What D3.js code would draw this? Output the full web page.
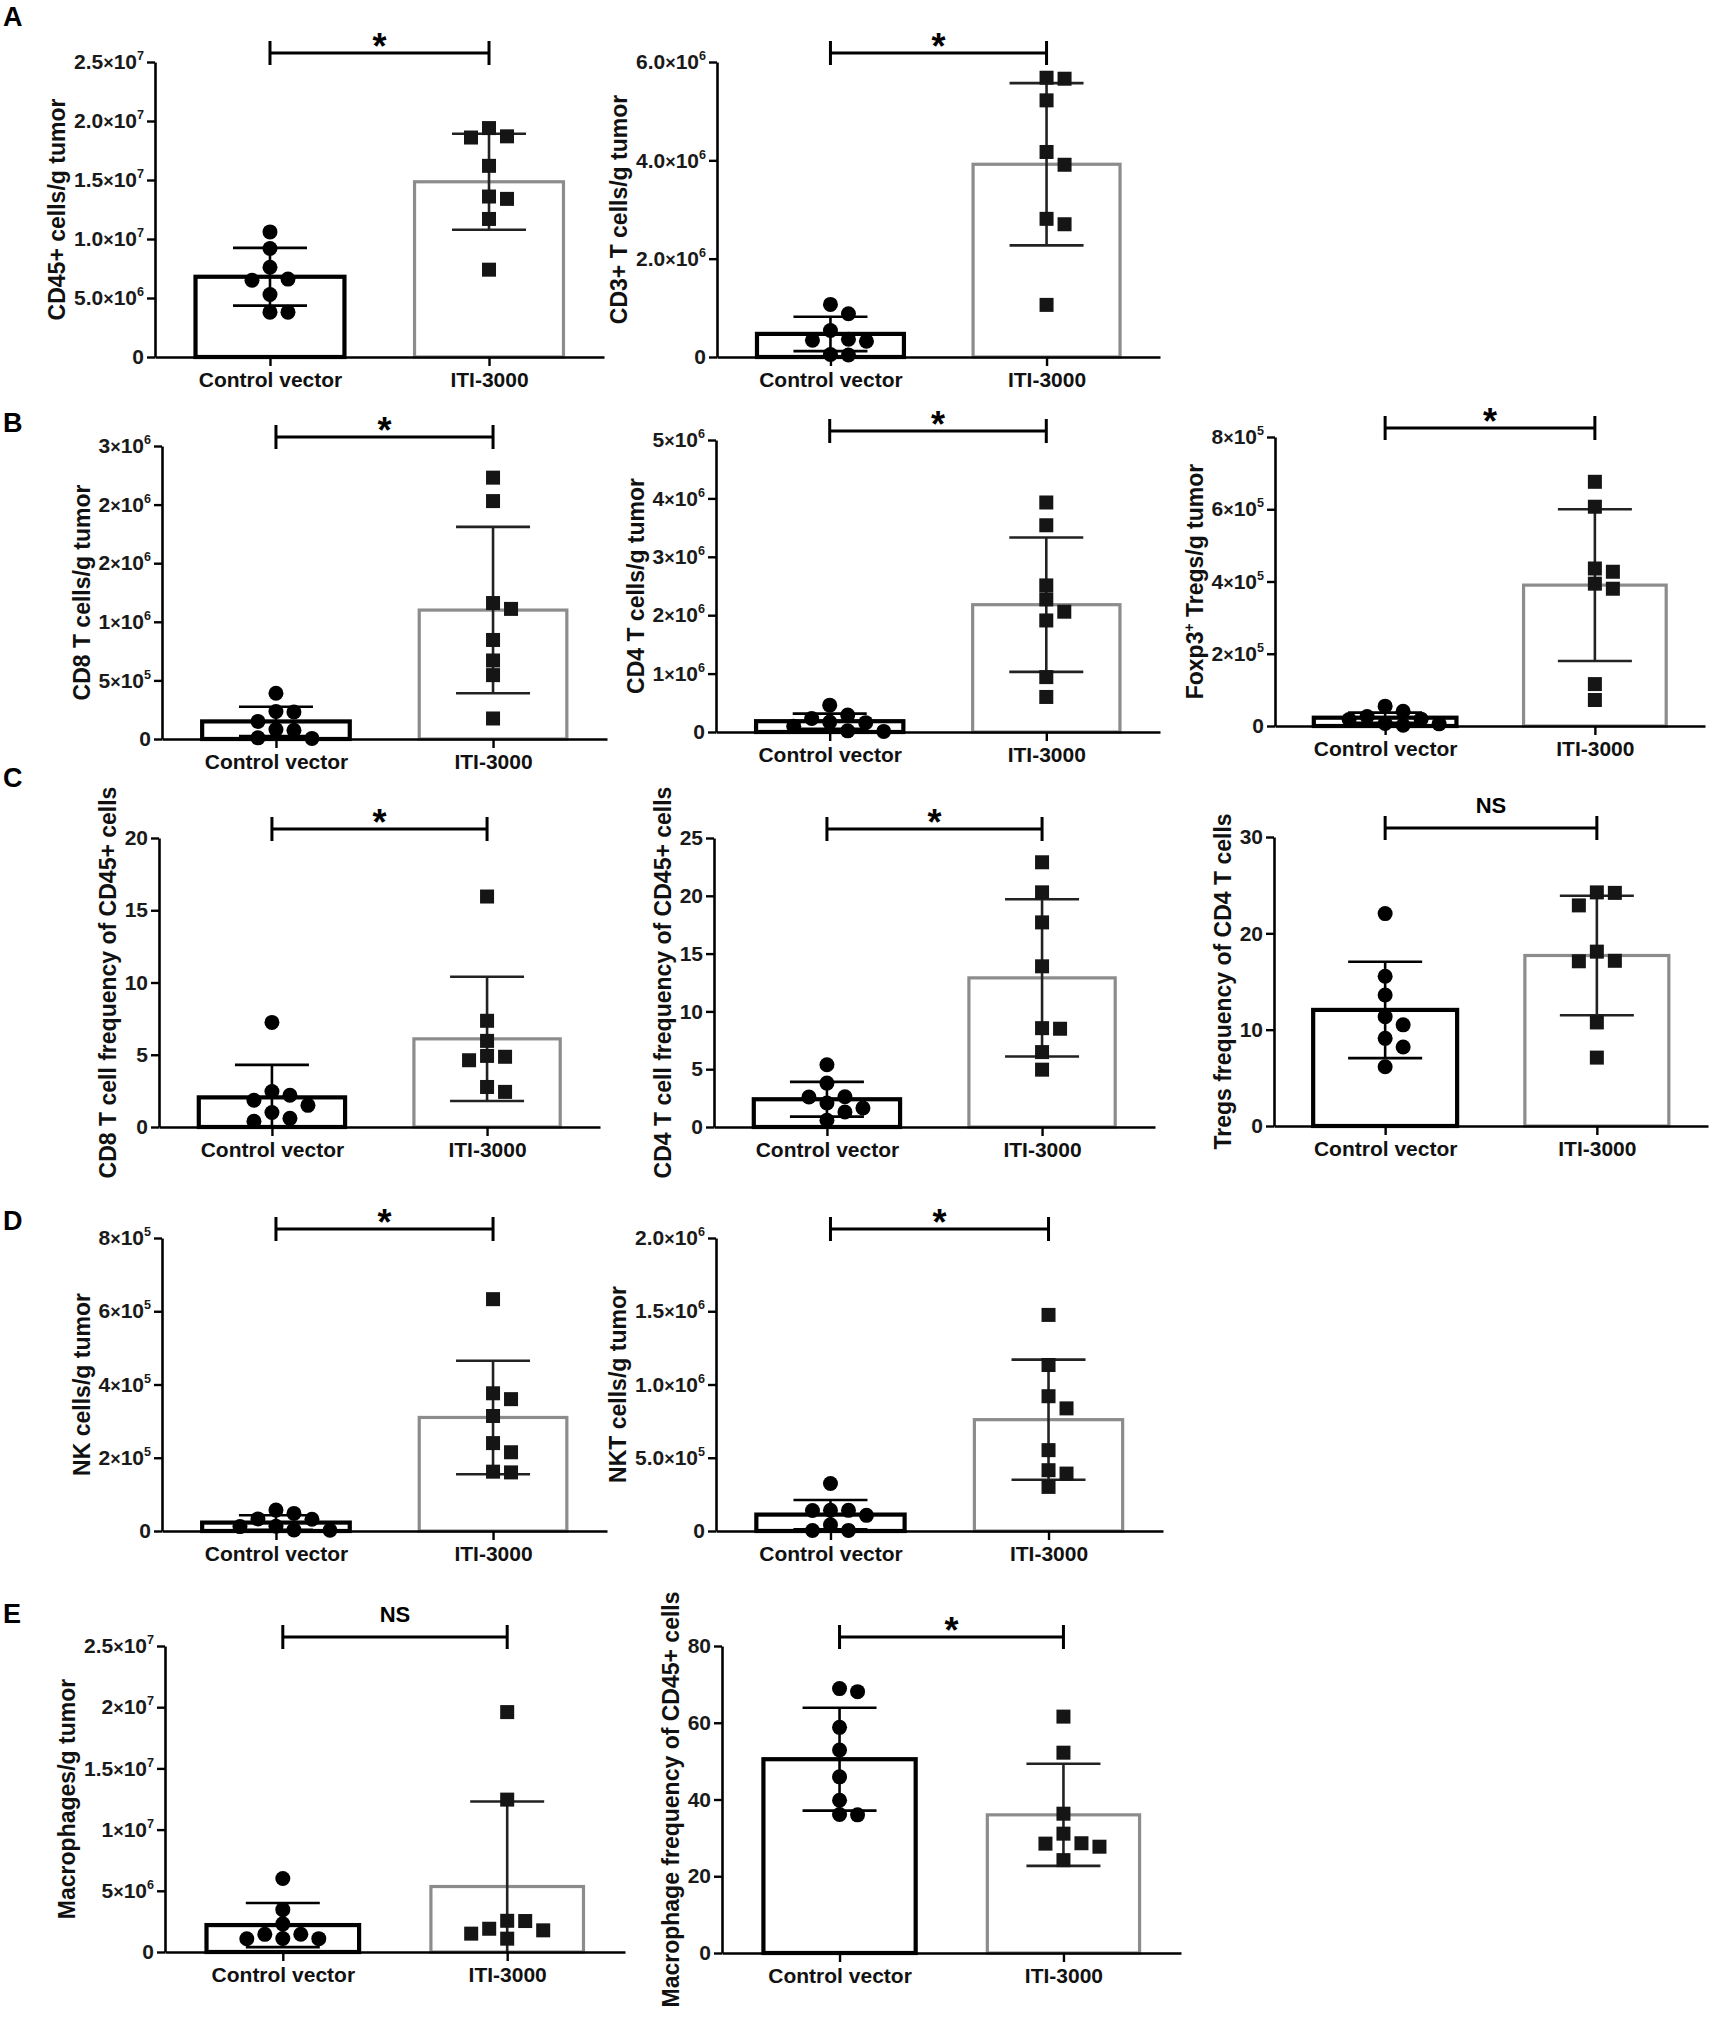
<!DOCTYPE html>
<html>
<head>
<meta charset="utf-8">
<script src="https://cdnjs.cloudflare.com/ajax/libs/d3/7.8.5/d3.min.js"></script>
<style>
  body { margin: 0; background: #fff; }
  svg { display: block; }
</style>
</head>
<body>
<div id="fig"></div>
<script>
// categories shared by every panel
var categories = ['Control vector', 'ITI-3000'];

// A: CD45+ cells/g tumor
var cd45Ctrl = [10.6e6, 9.2e6, 7.6e6, 6.5e6, 6.6e6, 5.3e6, 3.8e6, 3.8e6];
var cd45Iti = [19.4e6, 18.6e6, 18.7e6, 16.2e6, 13.4e6, 13.6e6, 11.7e6, 7.4e6];
var cd45Mean = [6.8e6, 14.85e6];
var cd45Sd = [2.45e6, 4.07e6];
var cd45Ticks = [0, 5e6, 1e7, 1.5e7, 2e7, 2.5e7];
var cd45Labels = ['0', '5.0×10^6', '1.0×10^7', '1.5×10^7', '2.0×10^7', '2.5×10^7'];

// A: CD3+ T cells/g tumor
var cd3Ctrl = [1.07e6, 0.88e6, 0.54e6, 0.34e6, 0.32e6, 0.36e6, 0.05e6, 0.04e6];
var cd3Iti = [5.66e6, 5.68e6, 5.22e6, 4.17e6, 3.91e6, 2.81e6, 2.70e6, 1.06e6];
var cd3Mean = [0.47e6, 3.92e6];
var cd3Sd = [0.35e6, 1.65e6];
var cd3Ticks = [0, 2e6, 4e6, 6e6];
var cd3Labels = ['0', '2.0×10^6', '4.0×10^6', '6.0×10^6'];

// B: CD8 T cells/g tumor
var cd8Ctrl = [3.9e5, 2.3e5, 2.35e5, 1.5e5, 0.8e5, 0.75e5, 0.1e5, 0.05e5];
var cd8Iti = [22.3e5, 20.3e5, 11.6e5, 11.1e5, 8.45e5, 6.7e5, 5.45e5, 1.75e5];
var cd8Mean = [1.5e5, 11.0e5];
var cd8Sd = [1.25e5, 7.1e5];
var cd8Ticks = [0, 5e5, 1e6, 1.5e6, 2e6, 2.5e6];
var cd8Labels = ['0', '5×10^5', '1×10^6', '2×10^6', '2×10^6', '3×10^6'];

// B: CD4 T cells/g tumor
var cd4Ctrl = [0.46e6, 0.29e6, 0.23e6, 0.16e6, 0.17e6, 0.1e6, 0.01e6, 0.02e6];
var cd4Iti = [3.93e6, 3.54e6, 2.51e6, 2.27e6, 2.06e6, 1.91e6, 0.94e6, 0.6e6];
var cd4Mean = [0.185e6, 2.18e6];
var cd4Sd = [0.13e6, 1.15e6];
var cd4Ticks = [0, 1e6, 2e6, 3e6, 4e6, 5e6];
var cd4Labels = ['0', '1×10^6', '2×10^6', '3×10^6', '4×10^6', '5×10^6'];

// B: Foxp3+ Tregs/g tumor
var tregCtrl = [0.55e5, 0.41e5, 0.26e5, 0.18e5, 0.19e5, 0.07e5, 0.06e5, 0.02e5];
var tregIti = [6.76e5, 6.07e5, 4.36e5, 4.27e5, 3.94e5, 3.8e5, 1.16e5, 0.72e5];
var tregMean = [0.23e5, 3.9e5];
var tregSd = [0.14e5, 2.1e5];
var tregTicks = [0, 2e5, 4e5, 6e5, 8e5];
var tregLabels = ['0', '2×10^5', '4×10^5', '6×10^5', '8×10^5'];

// C: CD8 T cell frequency of CD45+ cells
var cd8FreqCtrl = [7.24, 2.45, 2.2, 1.85, 1.5, 1.0, 0.6, 0.4];
var cd8FreqIti = [15.95, 7.35, 5.96, 4.92, 4.86, 4.62, 2.77, 2.43];
var cd8FreqMean = [2.05, 6.1];
var cd8FreqSd = [2.25, 4.3];
var cd8FreqTicks = [0, 5, 10, 15, 20];

// C: CD4 T cell frequency of CD45+ cells
var cd4FreqCtrl = [5.39, 3.8, 2.6, 2.62, 2.07, 1.64, 1.3, 0.58];
var cd4FreqIti = [22.9, 20.3, 17.7, 13.9, 8.5, 8.55, 6.48, 4.96];
var cd4FreqMean = [2.4, 12.9];
var cd4FreqSd = [1.5, 6.8];
var cd4FreqTicks = [0, 5, 10, 15, 20, 25];

// C: Tregs frequency of CD4 T cells
var tregFreqCtrl = [22.05, 15.55, 13.6, 11.35, 10.5, 9.1, 8.2, 6.15];
var tregFreqIti = [24.2, 24.25, 22.9, 18.1, 17.1, 17.15, 10.75, 7.1];
var tregFreqMean = [12.05, 17.7];
var tregFreqSd = [5.0, 6.2];
var tregFreqTicks = [0, 10, 20, 30];

// D: NK cells/g tumor
var nkCtrl = [0.57e5, 0.48e5, 0.32e5, 0.33e5, 0.12e5, 0.13e5, 0.02e5, 0.03e5];
var nkIti = [6.33e5, 3.76e5, 3.6e5, 3.14e5, 2.4e5, 2.15e5, 1.6e5, 1.62e5];
var nkMean = [0.23e5, 3.1e5];
var nkSd = [0.2e5, 1.55e5];
var nkTicks = [0, 2e5, 4e5, 6e5, 8e5];
var nkLabels = ['0', '2×10^5', '4×10^5', '6×10^5', '8×10^5'];

// D: NKT cells/g tumor
var nktCtrl = [3.24e5, 1.41e5, 1.42e5, 1.4e5, 1.07e5, 0.43e5, 0.03e5, 0.04e5];
var nktIti = [14.75e5, 11.33e5, 9.2e5, 8.37e5, 5.52e5, 4.15e5, 3.92e5, 3.01e5];
var nktMean = [1.12e5, 7.6e5];
var nktSd = [1.0e5, 4.1e5];
var nktTicks = [0, 5e5, 1e6, 1.5e6, 2e6];
var nktLabels = ['0', '5.0×10^5', '1.0×10^6', '1.5×10^6', '2.0×10^6'];

// E: Macrophages/g tumor
var macCtrl = [6.0e6, 3.46e6, 2.3e6, 1.44e6, 1.45e6, 1.09e6, 1.1e6, 1.08e6];
var macIti = [19.6e6, 12.45e6, 2.53e6, 2.55e6, 1.9e6, 1.77e6, 1.5e6, 1.09e6];
var macMean = [2.2e6, 5.35e6];
var macSd = [1.8e6, 6.95e6];
var macTicks = [0, 5e6, 1e7, 1.5e7, 2e7, 2.5e7];
var macLabels = ['0', '5×10^6', '1×10^7', '1.5×10^7', '2×10^7', '2.5×10^7'];

// E: Macrophage frequency of CD45+ cells
var macFreqCtrl = [68.1, 68.9, 58.8, 52.9, 45.9, 39.8, 36.1, 36.0];
var macFreqIti = [61.6, 52.2, 36.3, 31.1, 28.5, 28.6, 27.7, 24.2];
var macFreqMean = [50.5, 36.0];
var macFreqSd = [13.4, 13.3];
var macFreqTicks = [0, 20, 40, 60, 80];

// panel letters
var letters = ['A', 'B', 'C', 'D', 'E'];

var FONT = '"Liberation Sans", Arial, Helvetica, sans-serif';
var width = 1711;
var height = 2028;

// layout of each small chart (axis x, axis end, top tick y, zero y)
var panels = [
  { title: 'CD45+ cells/g tumor', ctrl: cd45Ctrl, iti: cd45Iti, mean: cd45Mean, sd: cd45Sd,
    ticks: cd45Ticks, labels: cd45Labels, sig: '*', x0: 155, x1: 604, yTop: 62, yZero: 357 },
  { title: 'CD3+ T cells/g tumor', ctrl: cd3Ctrl, iti: cd3Iti, mean: cd3Mean, sd: cd3Sd,
    ticks: cd3Ticks, labels: cd3Labels, sig: '*', x0: 717, x1: 1160, yTop: 62, yZero: 357 },
  { title: 'CD8 T cells/g tumor', ctrl: cd8Ctrl, iti: cd8Iti, mean: cd8Mean, sd: cd8Sd,
    ticks: cd8Ticks, labels: cd8Labels, sig: '*', x0: 162, x1: 607, yTop: 446, yZero: 739 },
  { title: 'CD4 T cells/g tumor', ctrl: cd4Ctrl, iti: cd4Iti, mean: cd4Mean, sd: cd4Sd,
    ticks: cd4Ticks, labels: cd4Labels, sig: '*', x0: 716, x1: 1160, yTop: 440, yZero: 732 },
  { title: ['Foxp3', '+', ' Tregs/g tumor'], ctrl: tregCtrl, iti: tregIti, mean: tregMean, sd: tregSd,
    ticks: tregTicks, labels: tregLabels, sig: '*', x0: 1275, x1: 1705, yTop: 437, yZero: 726 },
  { title: 'CD8 T cell frequency of CD45+ cells', ctrl: cd8FreqCtrl, iti: cd8FreqIti, mean: cd8FreqMean, sd: cd8FreqSd,
    ticks: cd8FreqTicks, labels: null, sig: '*', x0: 159, x1: 600, yTop: 838, yZero: 1127 },
  { title: 'CD4 T cell frequency of CD45+ cells', ctrl: cd4FreqCtrl, iti: cd4FreqIti, mean: cd4FreqMean, sd: cd4FreqSd,
    ticks: cd4FreqTicks, labels: null, sig: '*', x0: 714, x1: 1155, yTop: 838, yZero: 1127 },
  { title: 'Tregs frequency of CD4 T cells', ctrl: tregFreqCtrl, iti: tregFreqIti, mean: tregFreqMean, sd: tregFreqSd,
    ticks: tregFreqTicks, labels: null, sig: 'NS', x0: 1274, x1: 1708, yTop: 837, yZero: 1126 },
  { title: 'NK cells/g tumor', ctrl: nkCtrl, iti: nkIti, mean: nkMean, sd: nkSd,
    ticks: nkTicks, labels: nkLabels, sig: '*', x0: 162, x1: 607, yTop: 1238, yZero: 1531 },
  { title: 'NKT cells/g tumor', ctrl: nktCtrl, iti: nktIti, mean: nktMean, sd: nktSd,
    ticks: nktTicks, labels: nktLabels, sig: '*', x0: 716, x1: 1163, yTop: 1238, yZero: 1531 },
  { title: 'Macrophages/g tumor', ctrl: macCtrl, iti: macIti, mean: macMean, sd: macSd,
    ticks: macTicks, labels: macLabels, sig: 'NS', x0: 165, x1: 625, yTop: 1646, yZero: 1952 },
  { title: 'Macrophage frequency of CD45+ cells', ctrl: macFreqCtrl, iti: macFreqIti, mean: macFreqMean, sd: macFreqSd,
    ticks: macFreqTicks, labels: null, sig: '*', x0: 722, x1: 1181, yTop: 1646, yZero: 1953 }
];

var letterPos = [[3, 26], [3, 432], [3, 787], [3, 1230], [3, 1623]];

var svg = d3.select('#fig')
  .append('svg')
  .attr('width', width)
  .attr('height', height)
  .style('font-family', FONT)
  .style('font-weight', 'bold');

svg.append('rect').attr('width', width).attr('height', height).attr('fill', '#fff');

svg.selectAll('.letter')
  .data(letters)
  .enter()
  .append('text')
  .attr('class', 'letter')
  .attr('x', function(d, i) { return letterPos[i][0]; })
  .attr('y', function(d, i) { return letterPos[i][1]; })
  .attr('font-size', 27)
  .attr('fill', '#000')
  .text(function(d) { return d; });

// writes "2.5×10^7" as text with a superscript
function writeLabel(textEl, label) {
  textEl.text(null);
  if (label.indexOf('^') < 0) {
    textEl.text(label);
    return;
  }
  var parts = label.split('^');
  var base = parts[0].split('×');
  textEl.append('tspan').text(base[0]);
  textEl.append('tspan').attr('font-size', '0.85em').text('×');
  textEl.append('tspan').text(base[1]);
  textEl.append('tspan').attr('font-size', '0.6em').attr('dy', -9).text(parts[1]);
}

// simple bee swarm, in pixels, like the prism scatter spread
function swarm(values, y, cx, step, minDy) {
  var placed = [];
  var out = [];
  var order = values.map(function(v, i) { return i; })
    .sort(function(a, b) { return values[b] - values[a]; });
  order.forEach(function(i) {
    var py = y(values[i]);
    for (var k = 0; k < 30; k++) {
      var off = k === 0 ? 0 : (k % 2 ? 1 : -1) * Math.ceil(k / 2) * step;
      var hit = placed.some(function(p) {
        return Math.abs(p.x - off) < step * 0.9 && Math.abs(p.y - py) < minDy;
      });
      if (!hit) {
        placed.push({ x: off, y: py });
        out[i] = { x: cx + off, y: py };
        break;
      }
    }
  });
  return out;
}

panels.forEach(function(p) {
  var g = svg.append('g');

  var x = d3.scalePoint()
    .domain(categories)
    .range([p.x0, p.x1])
    .padding(0.525);

  var y = d3.scaleLinear()
    .domain([0, d3.max(p.ticks)])
    .range([p.yZero, p.yTop]);

  var bw = x.step() * 0.68;
  var cx = categories.map(function(c) { return x(c); });

  // bars (mean)
  g.selectAll('.bar')
    .data(p.mean)
    .enter()
    .append('rect')
    .attr('x', function(d, i) { return cx[i] - bw / 2; })
    .attr('y', function(d) { return y(d); })
    .attr('width', bw)
    .attr('height', function(d) { return p.yZero - y(d); })
    .attr('fill', '#fff')
    .attr('stroke', function(d, i) { return i === 0 ? '#000' : '#8c8c8c'; })
    .attr('stroke-width', function(d, i) { return i === 0 ? 4.2 : 3.2; });

  // error bars (SD)
  p.mean.forEach(function(m, i) {
    var hi = m + p.sd[i];
    var lo = Math.max(0, m - p.sd[i]);
    var col = i === 0 ? '#000' : '#222';
    g.append('line')
      .attr('x1', cx[i]).attr('x2', cx[i])
      .attr('y1', y(hi)).attr('y2', y(lo))
      .attr('stroke', col).attr('stroke-width', 2.6);
    g.append('line')
      .attr('x1', cx[i] - 37).attr('x2', cx[i] + 37)
      .attr('y1', y(hi)).attr('y2', y(hi))
      .attr('stroke', col).attr('stroke-width', 2.6);
    if (m - p.sd[i] > 0) {
      g.append('line')
        .attr('x1', cx[i] - 37).attr('x2', cx[i] + 37)
        .attr('y1', y(lo)).attr('y2', y(lo))
        .attr('stroke', col).attr('stroke-width', 2.6);
    }
  });

  // points
  var ctrlPts = swarm(p.ctrl, y, cx[0], 18, 14);
  var itiPts = swarm(p.iti, y, cx[1], 18, 14);

  g.selectAll('.dotc')
    .data(ctrlPts)
    .enter()
    .append('circle')
    .attr('cx', function(d) { return d.x; })
    .attr('cy', function(d) { return d.y; })
    .attr('r', 7.5)
    .attr('fill', '#000');

  g.selectAll('.doti')
    .data(itiPts)
    .enter()
    .append('rect')
    .attr('x', function(d) { return d.x - 7; })
    .attr('y', function(d) { return d.y - 7; })
    .attr('width', 14)
    .attr('height', 14)
    .attr('fill', '#151515');

  // y axis
  var yAxis = d3.axisLeft(y)
    .tickValues(p.ticks)
    .tickSize(8)
    .tickSizeOuter(0)
    .tickPadding(3);

  var yg = g.append('g')
    .attr('transform', 'translate(' + p.x0 + ',0)')
    .call(yAxis)
    .attr('font-family', FONT)
    .attr('font-size', 21);

  yg.select('.domain').attr('stroke', '#000').attr('stroke-width', 2.6);
  yg.selectAll('.tick line').attr('stroke', '#000').attr('stroke-width', 2.4);
  yg.selectAll('.tick text')
    .attr('fill', '#1a1a1a')
    .each(function(d) {
      var idx = p.ticks.indexOf(d);
      var lab = p.labels ? p.labels[idx] : String(d);
      writeLabel(d3.select(this), lab);
    });

  // x axis
  var xAxis = d3.axisBottom(x)
    .tickSize(9)
    .tickSizeOuter(0)
    .tickPadding(6);

  var xg = g.append('g')
    .attr('transform', 'translate(0,' + p.yZero + ')')
    .call(xAxis)
    .attr('font-family', FONT)
    .attr('font-size', 21);

  xg.select('.domain').attr('stroke', '#000').attr('stroke-width', 2.6);
  xg.selectAll('.tick line').attr('stroke', '#000').attr('stroke-width', 2.4);
  xg.selectAll('.tick text').attr('fill', '#111');

  // y title, placed left of the tick labels
  var bb = yg.node().getBBox();
  var title = g.append('text')
    .attr('transform', 'translate(' + (p.x0 + bb.x - 9) + ',' + ((p.yTop + p.yZero) / 2) + ') rotate(-90)')
    .attr('text-anchor', 'middle')
    .attr('font-size', 23)
    .attr('fill', '#111');
  if (Array.isArray(p.title)) {
    title.append('tspan').text(p.title[0]);
    title.append('tspan').attr('font-size', '0.6em').attr('dy', -9).text(p.title[1]);
    title.append('tspan').attr('dy', 9).text(p.title[2]);
  } else {
    title.text(p.title);
  }

  // significance bracket
  var yb = p.yTop - 9;
  g.append('path')
    .attr('d', 'M' + cx[0] + ',' + (yb - 12) + 'V' + (yb + 12) +
      'M' + cx[0] + ',' + yb + 'H' + cx[1] +
      'M' + cx[1] + ',' + (yb - 12) + 'V' + (yb + 12))
    .attr('fill', 'none')
    .attr('stroke', '#000')
    .attr('stroke-width', 3);

  g.append('text')
    .attr('x', (cx[0] + cx[1]) / 2)
    .attr('y', p.sig === '*' ? yb + 6 : yb - 15)
    .attr('text-anchor', 'middle')
    .attr('font-size', p.sig === '*' ? 36 : 22)
    .attr('fill', '#000')
    .text(p.sig);
});
</script>
</body>
</html>
